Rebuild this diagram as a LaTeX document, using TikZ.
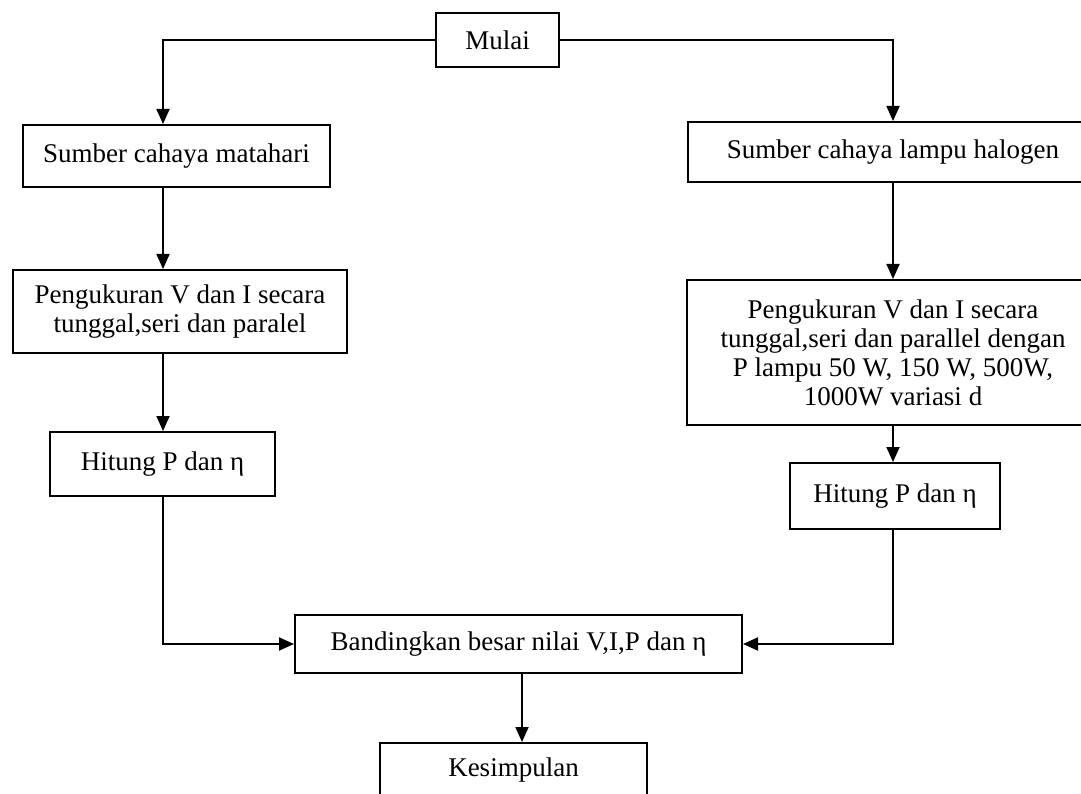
\documentclass[tikz,border=0pt]{standalone}
\usepackage{fontspec}
\setmainfont{Liberation Serif}
\usetikzlibrary{arrows.meta,calc}
\begin{document}
\begin{tikzpicture}[x=1pt,y=-1pt,
  box/.style={draw,line width=2pt,rectangle,inner sep=0pt,align=center,font=\fontsize{27}{29}\selectfont},
  arr/.style={line width=1.8pt,-{Triangle[length=15pt,width=13pt]}},
  ln/.style={line width=1.8pt}]
\useasboundingbox (0,0) rectangle (1081,794);
\coordinate (lc) at (163,0);
\coordinate (rc) at (893,0);
\coordinate (bc) at (522,0);
\node[box,minimum width=123pt,minimum height=54pt] (mulai) at (497.5,40) {Mulai};
\node[box,minimum width=307pt,minimum height=62pt] (sl) at (176.5,156) {Sumber cahaya matahari};
\node[box,minimum width=334pt,minimum height=83pt] (pl) at (180,311.5) {Pengukuran V dan I secara\\tunggal,seri dan paralel};
\node[box,minimum width=225pt,minimum height=64pt] (hl) at (162.5,464) {Hitung P dan η};
\node[box,minimum width=410pt,minimum height=60pt] (sr) at (893,152) {Sumber cahaya lampu halogen};
\node[box,minimum width=412pt,minimum height=145pt] (pr) at (893,352.5) {Pengukuran V dan I secara\\tunggal,seri dan parallel dengan\\P lampu 50 W, 150 W, 500W,\\1000W variasi d};
\node[box,minimum width=210pt,minimum height=66pt] (hr) at (895,496) {Hitung P dan η};
\node[box,minimum width=447pt,minimum height=58pt] (band) at (518.5,644) {Bandingkan besar nilai V,I,P dan η};
\node[box,minimum width=267pt,minimum height=54pt] (kes) at (513.5,770) {Kesimpulan};
\draw[arr] (mulai.west) -| (sl.north -| lc);
\draw[arr] (mulai.east) -| (sr.north -| rc);
\draw[arr] (sl.south -| lc) -- (pl.north -| lc);
\draw[arr] (pl.south -| lc) -- (hl.north -| lc);
\draw[arr] (sr.south -| rc) -- (pr.north -| rc);
\draw[arr] (pr.south -| rc) -- (hr.north -| rc);
\draw[arr] (hl.south -| lc) |- (band.west);
\draw[arr] (hr.south -| rc) |- (band.east);
\draw[arr] (band.south -| bc) -- (kes.north -| bc);
\end{tikzpicture}
\end{document}
